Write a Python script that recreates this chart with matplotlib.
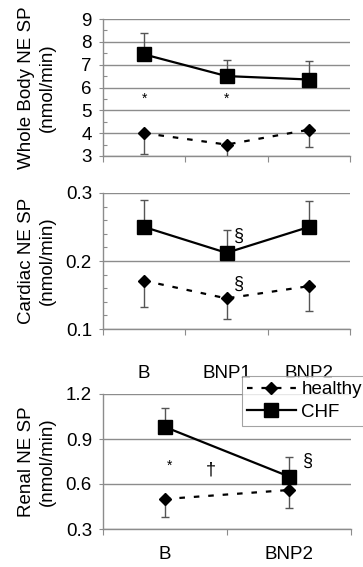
import matplotlib
matplotlib.use("Agg")
import matplotlib.pyplot as plt
from matplotlib.lines import Line2D
from matplotlib.ticker import MultipleLocator

plt.rcParams['font.family'] = ['Liberation Sans', 'DejaVu Sans']

# ---------------- data ----------------
cats3 = ["B", "BNP1", "BNP2"]
cats2 = ["B", "BNP2"]

wb_chf = [7.45, 6.5, 6.35]
wb_chf_err = [0.95, 0.7, 0.8]
wb_hea = [4.0, 3.5, 4.15]
wb_hea_err = [0.9, 0.6, 0.75]

ca_chf = [0.250, 0.212, 0.250]
ca_chf_err = [0.040, 0.033, 0.038]
ca_hea = [0.171, 0.145, 0.163]
ca_hea_err = [0.038, 0.030, 0.036]

re_chf = [0.98, 0.65]
re_chf_err = [0.13, 0.13]
re_hea = [0.50, 0.56]
re_hea_err = [0.12, 0.12]

ylabels = ["Whole Body NE SP\n(nmol/min)", "Cardiac NE SP\n(nmol/min)", "Renal NE SP\n(nmol/min)"]
legend_labels = ["healthy", "CHF"]

W, H = 363, 567
fig = plt.figure(figsize=(W / 100, H / 100), dpi=100)

def fx(px):
    return px / W

def fy(py):
    return 1 - py / H

def make_ax(left, right, top, bottom):
    return fig.add_axes([fx(left), fy(bottom), fx(right) - fx(left), fy(top) - fy(bottom)])

ax1 = make_ax(103, 350, 19, 156)
ax2 = make_ax(103, 350, 193, 329)
ax3 = make_ax(103, 351, 394, 529)

GRID = "#8c8c8c"
ERRC = "#555555"
FS = 13.5

def draw(ax, xs, chf, chf_err, hea, hea_err):
    ax.errorbar(xs, chf, yerr=[[0] * len(chf), chf_err], fmt='none', ecolor=ERRC,
                elinewidth=1.0, capsize=3, capthick=1.0, zorder=3)
    ax.errorbar(xs, hea, yerr=[hea_err, [0] * len(hea)], fmt='none', ecolor=ERRC,
                elinewidth=1.0, capsize=3, capthick=1.0, zorder=3)
    ax.plot(xs, chf, color='black', lw=1.6, marker='s', markersize=9.5, zorder=4)
    ax.plot(xs, hea, color='black', lw=1.6, ls=(0, (2.5, 4)), marker='D', markersize=6.3, zorder=4)

def style(ax, ymin, ymax, ystep, minor, nx, ytickfmt):
    ax.set_xlim(0, nx)
    ax.set_ylim(ymin, ymax)
    for s in ['top', 'right']:
        ax.spines[s].set_visible(False)
    ax.spines['left'].set_color(GRID)
    ax.spines['bottom'].set_color(GRID)
    ax.spines['left'].set_linewidth(1.0)
    ax.spines['bottom'].set_linewidth(1.0)
    ax.yaxis.set_major_locator(MultipleLocator(ystep))
    if minor:
        ax.yaxis.set_minor_locator(MultipleLocator(minor))
        ax.tick_params(axis='y', which='minor', direction='in', length=3, color=GRID, width=0.8)
    ax.yaxis.set_major_formatter(plt.FuncFormatter(lambda v, p: ytickfmt.format(v)))
    ax.tick_params(axis='y', which='major', direction='out', length=3, color=GRID, width=0.8,
                   labelsize=FS, pad=5)
    ax.set_xticks(list(range(nx + 1)))
    ax.tick_params(axis='x', which='major', direction='out', length=4, color=GRID, width=0.8,
                   labelbottom=False)
    ax.grid(axis='y', which='major', color=GRID, lw=1.0)
    ax.set_axisbelow(True)
    ax.set_facecolor('none')

x3 = [i + 0.5 for i in range(len(cats3))]
x2 = [i + 0.5 for i in range(len(cats2))]

draw(ax1, x3, wb_chf, wb_chf_err, wb_hea, wb_hea_err)
style(ax1, 3, 9, 1, 0.5, 3, "{:.0f}")
draw(ax2, x3, ca_chf, ca_chf_err, ca_hea, ca_hea_err)
style(ax2, 0.1, 0.3, 0.1, 0.02, 3, "{:.1f}")
draw(ax3, x2, re_chf, re_chf_err, re_hea, re_hea_err)
style(ax3, 0.3, 1.2, 0.3, None, 2, "{:.1f}")

# category labels
ax2.set_xticks(x3, minor=True)
ax2.set_xticklabels(cats3, minor=True)
ax2.tick_params(axis='x', which='minor', length=0, pad=26, labelsize=FS)
ax3.set_xticks(x2, minor=True)
ax3.set_xticklabels(cats2, minor=True)
ax3.tick_params(axis='x', which='minor', length=0, pad=12, labelsize=FS)

# y labels
for ax, lab in zip([ax1, ax2, ax3], ylabels):
    ax.set_ylabel(lab, fontsize=FS, linespacing=1.3)
    ax.yaxis.set_label_coords(-0.19, 0.5)

# annotations
ax1.text(0.5, 5.5, "*", ha='center', va='center', fontsize=10)
ax1.text(1.5, 5.5, "*", ha='center', va='center', fontsize=10)
ax2.text(1.65, 0.236, "§", ha='center', va='center', fontsize=13)
ax2.text(1.65, 0.165, "§", ha='center', va='center', fontsize=13)
ax3.text(0.54, 0.72, "*", ha='center', va='center', fontsize=10)
ax3.text(0.87, 0.69, "†", ha='center', va='center', fontsize=13)
ax3.text(1.65, 0.75, "§", ha='center', va='center', fontsize=13)

# legend
handles = [Line2D([], [], color='black', lw=1.6, ls=(0, (2.5, 4)), marker='D', markersize=6.3),
           Line2D([], [], color='black', lw=1.6, marker='s', markersize=9.5)]
leg = ax3.legend(handles, legend_labels, loc='upper left', bbox_to_anchor=(0.562, 1.13),
                 fontsize=FS, frameon=True, fancybox=False, handlelength=2.6,
                 borderpad=0.25, labelspacing=0.3, handletextpad=0.3, borderaxespad=0)
leg.get_frame().set_edgecolor(GRID)
leg.get_frame().set_linewidth(0.8)

fig.savefig("out.png", dpi=100)
